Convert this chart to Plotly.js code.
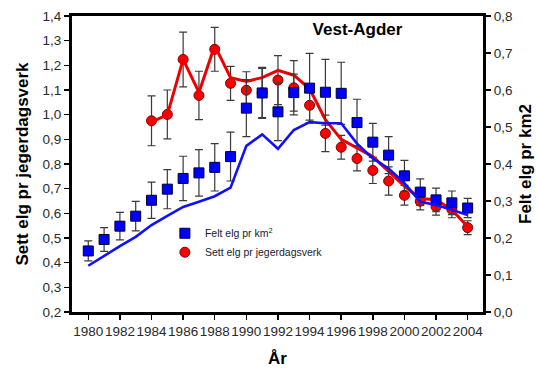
<!DOCTYPE html>
<html>
<head>
<meta charset="utf-8">
<script src="https://cdn.plot.ly/plotly-3.0.1.min.js"></script>
<style>html,body{margin:0;padding:0;background:#fff;}#chart{width:537px;height:371px;}</style>
</head>
<body>
<div id="chart"></div>
<script>
// Years
const years = [1980,1981,1982,1983,1984,1985,1986,1987,1988,1989,1990,1991,1992,1993,1994,1995,1996,1997,1998,1999,2000,2001,2002,2003,2004];

// Felt elg pr km2 (right axis) – squares with error bars
const feltKm2 = [0.165,0.196,0.232,0.259,0.302,0.332,0.361,0.376,0.391,0.420,0.551,0.592,0.541,0.593,0.605,0.594,0.591,0.512,0.459,0.424,0.368,0.324,0.303,0.295,0.281];
const feltErr = [0.027,0.032,0.037,0.040,0.049,0.053,0.060,0.063,0.064,0.066,0.077,0.069,0.078,0.050,0.094,0.089,0.084,0.063,0.051,0.050,0.042,0.036,0.032,0.032,0.026];
// Felt elg pr km2 – trend line (right axis)
const feltLine = [0.125,0.152,0.178,0.203,0.235,0.260,0.284,0.298,0.313,0.336,0.449,0.480,0.441,0.492,0.513,0.510,0.510,0.455,0.415,0.388,0.348,0.298,0.289,0.276,0.262];

// Sett elg pr jegerdagsverk (left axis) – circles with error bars, 1984-2004
const settYears = [1984,1985,1986,1987,1988,1989,1990,1991,1992,1993,1994,1995,1996,1997,1998,1999,2000,2001,2002,2003,2004];
const sett = [0.975,1.001,1.224,1.078,1.265,1.127,1.099,1.088,1.140,1.109,1.038,0.924,0.868,0.822,0.774,0.731,0.673,0.649,0.627,0.616,0.542];
const settErr = [0.101,0.099,0.111,0.098,0.089,0.069,0.075,0.100,0.099,0.110,0.060,0.074,0.048,0.050,0.053,0.057,0.040,0.035,0.034,0.034,0.028];
// Sett elg – trend line (left axis)
const settLine = [0.971,0.999,1.224,1.090,1.280,1.150,1.135,1.150,1.180,1.160,1.105,0.980,0.900,0.865,0.830,0.770,0.710,0.660,0.655,0.615,0.546];

const leftTicks = [0.2,0.3,0.4,0.5,0.6,0.7,0.8,0.9,1.0,1.1,1.2,1.3,1.4];
const rightTicks = [0.0,0.1,0.2,0.3,0.4,0.5,0.6,0.7,0.8];
const xTicks = [1980,1982,1984,1986,1988,1990,1992,1994,1996,1998,2000,2002,2004];

const errStyle = {type:'data', visible:true, color:'#3a3a3a', thickness:1.2, width:4};

const traces = [
  {
    x: settYears, y: sett, yaxis:'y', type:'scatter', mode:'markers',
    name:'Sett elg pr jegerdagsverk', legendrank:2,
    marker:{symbol:'circle', size:10, color:'#ff0000', line:{color:'#7a0000', width:1}},
    error_y: Object.assign({array: settErr}, errStyle)
  },
  {
    x: years, y: feltKm2, yaxis:'y2', type:'scatter', mode:'markers',
    name:'Felt elg pr km<sup>2</sup>', legendrank:1,
    marker:{symbol:'square', size:10, color:'#0000ff', line:{color:'#000033', width:1}},
    error_y: Object.assign({array: feltErr}, errStyle)
  },
  {
    x: settYears, y: settLine, yaxis:'y', type:'scatter', mode:'lines',
    showlegend:false, hoverinfo:'skip',
    line:{color:'#ee0000', width:3}
  },
  {
    x: years, y: feltLine, yaxis:'y2', type:'scatter', mode:'lines',
    showlegend:false, hoverinfo:'skip',
    line:{color:'#1010ff', width:2.6}
  }
];

const tickFont = {family:'Liberation Sans, Arial, sans-serif', size:13.5, color:'#2a2a2a'};
const titleFont = {family:'Liberation Sans, Arial, sans-serif', size:17, color:'#000000'};

const layout = {
  width:537, height:371,
  margin:{l:72, r:54, t:16, b:59, pad:0},
  paper_bgcolor:'#ffffff', plot_bgcolor:'#ffffff',
  separators:', ',
  font:{family:'Liberation Sans, Arial, sans-serif', size:13, color:'#222222'},
  title:{text:'<b>Vest-Agder</b>', x:373/537, xanchor:'center', xref:'paper', y:1-29/371, yanchor:'middle', yref:'container', font:titleFont},
  showlegend:true,
  legend:{x:0.226, y:0.315, xanchor:'left', yanchor:'top', bgcolor:'rgba(0,0,0,0)', borderwidth:0,
          font:{family:'Liberation Sans, Arial, sans-serif', size:10.5, color:'#1a1a33'}, tracegroupgap:0},
  xaxis:{
    range:[1978.97, 2004.97], tickmode:'array', tickvals:xTicks, ticktext:xTicks.map(String), tickangle:0,
    ticks:'outside', ticklen:5, tickwidth:1.5, tickcolor:'#000',
    showline:true, linewidth:3, linecolor:'#000', mirror:true,
    showgrid:false, zeroline:false, tickfont:tickFont,
    title:{text:'<b>År</b>', font:titleFont, standoff:14}
  },
  yaxis:{
    range:[0.2, 1.4], tickmode:'array', tickvals:leftTicks, tickformat:'.1f',
    ticks:'outside', ticklen:5, tickwidth:1.5, tickcolor:'#000',
    showline:true, linewidth:3, linecolor:'#000',
    showgrid:false, zeroline:false, tickfont:tickFont,
    title:{text:'<b>Sett elg pr jegerdagsverk</b>', font:titleFont, standoff:10}
  },
  yaxis2:{
    range:[0, 0.8], overlaying:'y', side:'right', tickmode:'array', tickvals:rightTicks, tickformat:'.1f',
    ticks:'outside', ticklen:5, tickwidth:1.5, tickcolor:'#000',
    showline:true, linewidth:3, linecolor:'#000',
    showgrid:false, zeroline:false, tickfont:tickFont,
    title:{text:'<b>Felt elg pr km2</b>', font:titleFont, standoff:8}
  }
};

Plotly.newPlot('chart', traces, layout, {displayModeBar:false, staticPlot:true});
</script>
</body>
</html>
